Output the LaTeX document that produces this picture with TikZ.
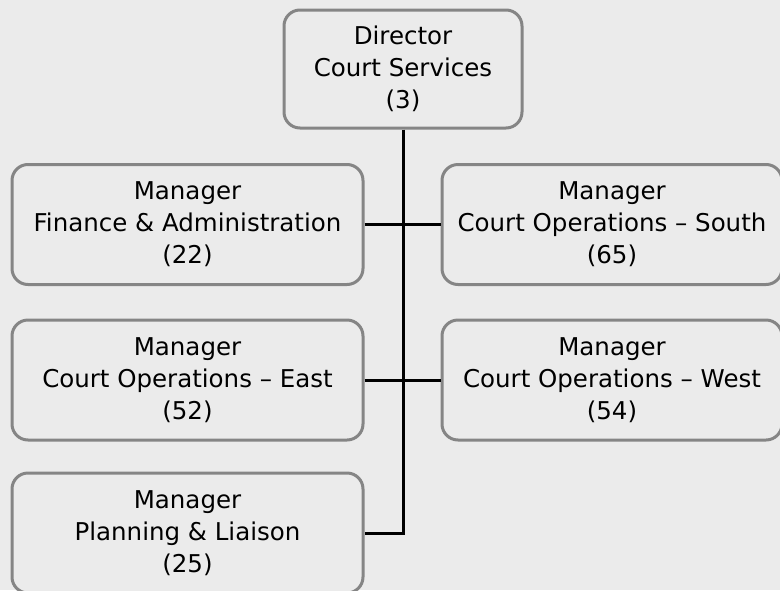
\documentclass[tikz,border=0pt]{standalone}
\usepackage{fontspec}
\setmainfont{DejaVu Sans}
\definecolor{bgcol}{HTML}{EBEBEB}
\definecolor{edgecol}{HTML}{858585}
\tikzset{
  unit/.style={draw=edgecol,line width=3pt,fill=bgcol,rounded corners=16pt,
    align=center,inner sep=0pt,font=\fontsize{24.5}{32}\selectfont},
  link/.style={black,line width=3pt}
}
\begin{document}
\begin{tikzpicture}[x=1pt,y=-1pt]
  \fill[bgcol] (0,0) rectangle (780,590);
  \useasboundingbox (0,0) rectangle (780,590);
  \node[unit,minimum width=238pt,minimum height=118pt] (dir) at (403,69) {Director\\Court Services\\(3)};
  \foreach \id/\x/\y/\bw/\txt/\num in {fin/187.5/224.5/351/Finance \& Administration/22,
      south/612/224.5/340/Court Operations -- South/65,
      east/187.5/380/351/Court Operations -- East/52,
      west/612/380/340/Court Operations -- West/54,
      plan/187.5/533/351/Planning \& Liaison/25} {
    \node[unit,minimum width=\bw pt,minimum height=120pt] (\id) at (\x,\y) {Manager\\\txt\\(\num)};
  }
  \draw[link] (dir.south) -- (dir.south |- plan.east) -- (plan.east);
  \draw[link] (fin.east) -- (south.west);
  \draw[link] (east.east) -- (west.west);
\end{tikzpicture}
\end{document}
